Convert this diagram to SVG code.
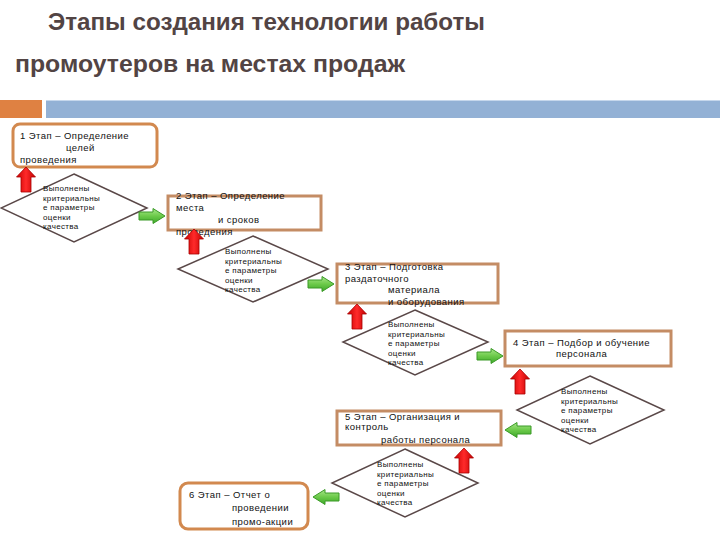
<svg xmlns="http://www.w3.org/2000/svg" width="720" height="540" viewBox="0 0 720 540">
<defs>
<linearGradient id="gg" x1="0" y1="0" x2="0" y2="1">
<stop offset="0" stop-color="#a8e68a"/><stop offset="0.5" stop-color="#6cca4a"/><stop offset="1" stop-color="#3da82a"/>
</linearGradient>
<linearGradient id="rg" x1="0" y1="0" x2="1" y2="0">
<stop offset="0" stop-color="#c80000"/><stop offset="0.5" stop-color="#ff2a2a"/><stop offset="1" stop-color="#c00000"/>
</linearGradient>
<path id="garrow" d="M0,-4 H14 V-7.5 L26,0 L14,7.5 V4 H0 Z" fill="url(#gg)" stroke="#3a9a26" stroke-width="1"/>
<path id="rarrow" d="M0,0 L9.5,10 H5 V25 H-5 V10 H-9.5 Z" fill="url(#rg)" stroke="#a80000" stroke-width="0.8"/>
</defs>
<style>
.t{font-family:"Liberation Sans",Arial,sans-serif;font-size:9.5px;letter-spacing:0.45px;fill:#111}
.d{font-family:"Liberation Sans",Arial,sans-serif;font-size:8px;letter-spacing:0.35px;fill:#111}
.box{fill:#fff;stroke:#c48c64;stroke-width:3}
.rbox{fill:#fff;stroke:#d2894f;stroke-width:3}
.dia{fill:#fff;stroke:#5a4848;stroke-width:1.5}
.title{font-family:"Liberation Sans",Arial,sans-serif;font-size:23px;font-weight:bold;fill:#524444}
</style>
<rect width="720" height="540" fill="#fff"/>
<text class="title" x="48" y="30" textLength="437" lengthAdjust="spacingAndGlyphs">Этапы создания технологии работы</text>
<text class="title" x="15" y="72" textLength="390" lengthAdjust="spacingAndGlyphs">промоутеров на местах продаж</text>
<rect x="0" y="100" width="42" height="18" fill="#df8142"/>
<rect x="46" y="100" width="674" height="18" fill="#93b1d5"/>
<line x1="46" y1="100.5" x2="720" y2="100.5" stroke="#c6d7ec" stroke-width="1"/>

<g id="stage1">
<rect class="rbox" x="13" y="124" width="144" height="43" rx="7"/>
<text class="t" x="20" y="139">1 Этап – Определение</text>
<text class="t" x="66" y="151">целей</text>
<text class="t" x="20" y="163">проведения</text>
</g>
<g id="check1">
<polygon class="dia" points="74,174 147,208 74,242 1,208"/>
<text class="d"><tspan x="43" y="191">Выполнены</tspan><tspan x="43" y="200.5">критериальны</tspan><tspan x="43" y="210">е параметры</tspan><tspan x="43" y="219.5">оценки</tspan><tspan x="43" y="229">качества</tspan></text>
</g>
<g id="stage2">
<rect class="box" x="168" y="196" width="153" height="34"/>
<text class="t" x="176" y="199">2 Этап – Определение</text>
<text class="t" x="176" y="211">места</text>
<text class="t" x="218" y="223">и сроков</text>
<text class="t" x="176" y="235">проведения</text>
</g>
<g id="check2">
<polygon class="dia" points="253,236 328,269 253,302 178,269"/>
<text class="d"><tspan x="225" y="254">Выполнены</tspan><tspan x="225" y="263.5">критериальны</tspan><tspan x="225" y="273">е параметры</tspan><tspan x="225" y="282.5">оценки</tspan><tspan x="225" y="292">качества</tspan></text>
</g>
<g id="stage3">
<rect class="box" x="337" y="264" width="161" height="39"/>
<text class="t" x="345" y="270">3 Этап – Подготовка</text>
<text class="t" x="345" y="282">раздаточного</text>
<text class="t" x="388" y="293">материала</text>
<text class="t" x="388" y="305">и оборудования</text>
</g>
<g id="check3">
<polygon class="dia" points="415,310 488,342 415,375 343,342"/>
<text class="d"><tspan x="388" y="327">Выполнены</tspan><tspan x="388" y="336.5">критериальны</tspan><tspan x="388" y="346">е параметры</tspan><tspan x="388" y="355.5">оценки</tspan><tspan x="388" y="365">качества</tspan></text>
</g>
<g id="stage4">
<rect class="box" x="505" y="331" width="166" height="35"/>
<text class="t" x="513" y="346">4 Этап – Подбор и обучение</text>
<text class="t" x="556" y="357">персонала</text>
</g>
<g id="check4">
<polygon class="dia" points="590,376 664,410 590,444 517,410"/>
<text class="d"><tspan x="561" y="394">Выполнены</tspan><tspan x="561" y="403.5">критериальны</tspan><tspan x="561" y="413">е параметры</tspan><tspan x="561" y="422.5">оценки</tspan><tspan x="561" y="432">качества</tspan></text>
</g>
<g id="stage5">
<rect class="box" x="337" y="411" width="164" height="34"/>
<text class="t" x="345" y="420">5 Этап – Организация и</text>
<text class="t" x="345" y="430">контроль</text>
<text class="t" x="381" y="443">работы персонала</text>
</g>
<g id="check5">
<polygon class="dia" points="405,449 478,483 405,517 332,483"/>
<text class="d"><tspan x="377" y="467">Выполнены</tspan><tspan x="377" y="476.5">критериальны</tspan><tspan x="377" y="486">е параметры</tspan><tspan x="377" y="495.5">оценки</tspan><tspan x="377" y="505">качества</tspan></text>
</g>
<g id="stage6">
<rect class="rbox" x="180" y="483" width="128" height="46" rx="8"/>
<text class="t" x="189" y="498">6 Этап – Отчет о</text>
<text class="t" x="232" y="511">проведении</text>
<text class="t" x="232" y="525">промо-акции</text>
</g>

<g id="connectors">
<use href="#rarrow" transform="translate(26,167)"/>
<use href="#rarrow" transform="translate(194,229)"/>
<use href="#rarrow" transform="translate(357,304)"/>
<use href="#rarrow" transform="translate(520,369)"/>
<use href="#rarrow" transform="translate(464,448)"/>
<use href="#garrow" transform="translate(139,216)"/>
<use href="#garrow" transform="translate(308,284)"/>
<use href="#garrow" transform="translate(477,356)"/>
<use href="#garrow" transform="translate(531,430) scale(-1,1)"/>
<use href="#garrow" transform="translate(339,497) scale(-1,1)"/>
</g>
</svg>
